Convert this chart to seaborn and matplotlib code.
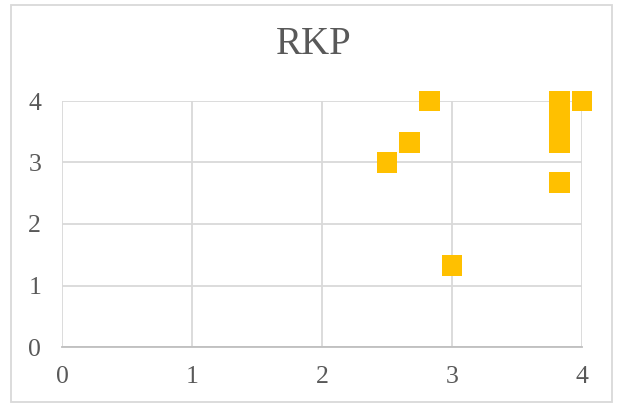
import pandas as pd

import seaborn as sns
import matplotlib.pyplot as plt
from matplotlib.patches import Rectangle

# data
x_vals = [2.5, 2.67, 2.83, 3.0, 3.83, 3.83, 3.83, 3.83, 4.0]
y_vals = [3.0, 3.33, 4.0, 1.33, 4.0, 3.67, 3.33, 2.67, 4.0]
ticks = [0, 1, 2, 3, 4]
title = 'RKP'

df = pd.DataFrame({'x': x_vals, 'y': y_vals})

sns.set_theme(style='white')
plt.rcParams['font.family'] = ['Liberation Serif', 'DejaVu Serif']

fig = plt.figure(figsize=(6.17, 4.05), dpi=100)
ax = fig.add_axes([62 / 617, 1 - 347 / 405, 520 / 617, 246 / 405])

sns.scatterplot(data=df, x='x', y='y', marker='s', s=225,
                color='#FFC000', edgecolor='none', ax=ax, zorder=3,
                clip_on=False)

ax.set_xlim(0, 4)
ax.set_ylim(0, 4)
ax.set_xticks(ticks)
ax.set_yticks(ticks)
ax.grid(True, color='#D9D9D9', linewidth=1.3)
for side in ['top', 'right', 'left']:
    ax.spines[side].set_visible(False)
ax.spines['bottom'].set_color('#BFBFBF')
ax.spines['bottom'].set_linewidth(1.3)
ax.tick_params(axis='both', length=0, labelsize=18.5, colors='#595959')
ax.tick_params(axis='x', pad=14)
ax.tick_params(axis='y', pad=15)
ax.set_xlabel('')
ax.set_ylabel('')

fig.text(0.509, 1 - 45 / 405, title, ha='center', va='center',
         fontsize=28, color='#595959')

# chart border
fig.patches.append(Rectangle((11 / 617, 3 / 405), 601 / 617, 397 / 405,
                             transform=fig.transFigure, fill=False,
                             edgecolor='#D9D9D9', linewidth=1.3))

plt.savefig('out.png', dpi=100)
